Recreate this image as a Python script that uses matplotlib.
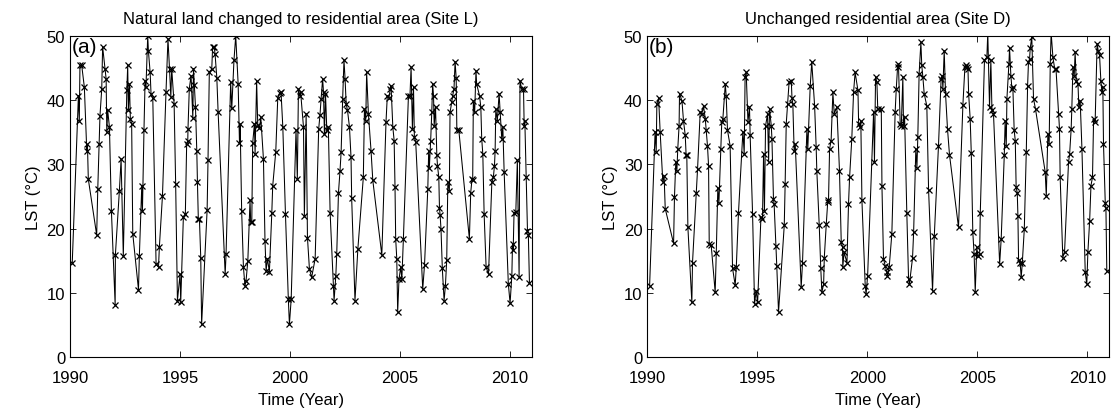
import matplotlib
matplotlib.use("Agg")
import matplotlib.pyplot as plt

plt.rcParams["font.family"] = ["Liberation Sans", "DejaVu Sans"]
plt.rcParams["font.size"] = 12

# Site L: natural land changed to residential area
years_l = [
    1990.10, 1990.38, 1990.42, 1990.45, 1990.53, 1990.65, 1990.76, 1990.79, 1990.83,
    1991.21, 1991.26, 1991.32, 1991.36, 1991.44, 1991.48, 1991.59, 1991.64, 1991.67,
    1991.71, 1991.79, 1991.88, 1992.05, 1992.06, 1992.24, 1992.32, 1992.42, 1992.58,
    1992.62, 1992.65, 1992.70, 1992.74, 1992.80, 1992.85, 1993.11, 1993.15, 1993.26,
    1993.29, 1993.36, 1993.41, 1993.45, 1993.53, 1993.56, 1993.64, 1993.68, 1993.76,
    1993.91, 1994.02, 1994.06, 1994.20, 1994.36, 1994.45, 1994.52, 1994.58, 1994.62,
    1994.73, 1994.80, 1994.88, 1995.00, 1995.03, 1995.15, 1995.24, 1995.30, 1995.35,
    1995.36, 1995.42, 1995.50, 1995.58, 1995.61, 1995.65, 1995.70, 1995.76, 1995.79,
    1995.83, 1995.88, 1995.94, 1995.98, 1996.23, 1996.27, 1996.33, 1996.44, 1996.48,
    1996.55, 1996.59, 1996.67, 1996.73, 1997.05, 1997.09, 1997.30, 1997.35, 1997.45,
    1997.53, 1997.64, 1997.70, 1997.73, 1997.80, 1997.88, 1997.95, 1998.00, 1998.08,
    1998.18, 1998.21, 1998.26, 1998.30, 1998.38, 1998.41, 1998.48, 1998.53, 1998.61,
    1998.67, 1998.79, 1998.86, 1998.91, 1998.97, 1999.06, 1999.17, 1999.21, 1999.35,
    1999.44, 1999.52, 1999.59, 1999.67, 1999.79, 1999.92, 1999.97, 2000.05, 2000.27,
    2000.33, 2000.38, 2000.45, 2000.48, 2000.61, 2000.65, 2000.73, 2000.79, 2000.88,
    2000.98, 2001.14, 2001.30, 2001.36, 2001.41, 2001.48, 2001.52, 2001.56, 2001.61,
    2001.67, 2001.74, 2001.82, 2001.97, 2002.00, 2002.08, 2002.12, 2002.20, 2002.27,
    2002.32, 2002.39, 2002.45, 2002.50, 2002.55, 2002.61, 2002.70, 2002.77, 2002.80,
    2002.95, 2003.08, 2003.33, 2003.38, 2003.44, 2003.48, 2003.56, 2003.68, 2003.76,
    2004.17, 2004.36, 2004.42, 2004.50, 2004.55, 2004.59, 2004.67, 2004.73, 2004.77,
    2004.80, 2004.85, 2004.89, 2004.95, 2005.03, 2005.08, 2005.15, 2005.38, 2005.45,
    2005.50, 2005.56, 2005.61, 2005.65, 2005.71, 2006.03, 2006.11, 2006.26, 2006.30,
    2006.33, 2006.39, 2006.44, 2006.48, 2006.52, 2006.55, 2006.61, 2006.67, 2006.70,
    2006.76, 2006.79, 2006.82, 2006.86, 2006.92, 2007.00, 2007.06, 2007.12, 2007.17,
    2007.24, 2007.27, 2007.35, 2007.39, 2007.45, 2007.50, 2007.55, 2007.58, 2007.67,
    2008.15, 2008.21, 2008.27, 2008.30, 2008.33, 2008.39, 2008.45, 2008.48, 2008.61,
    2008.67, 2008.71, 2008.76, 2008.82, 2008.91, 2009.02, 2009.17, 2009.24, 2009.29,
    2009.32, 2009.35, 2009.42, 2009.50, 2009.55, 2009.62, 2009.67, 2009.73, 2009.92,
    2010.00, 2010.08, 2010.11, 2010.14, 2010.18, 2010.26, 2010.33, 2010.41, 2010.45,
    2010.53, 2010.61, 2010.64, 2010.67, 2010.73, 2010.79, 2010.83, 2010.88,
]
lst_l = [
    14.7, 40.7, 36.8, 45.4, 45.4, 42.0, 32.1, 33.1, 27.7,
    19.0, 26.2, 33.2, 37.6, 41.7, 48.3, 44.9, 43.3, 35.0,
    38.4, 35.8, 22.7, 8.1, 15.9, 25.8, 30.8, 15.7, 41.5,
    45.4, 38.4, 42.5, 37.1, 36.3, 19.2, 10.5, 15.8, 26.7,
    22.8, 35.4, 43.0, 42.0, 50.0, 47.7, 44.3, 41.0, 40.3,
    14.5, 14.0, 17.2, 25.1, 41.2, 49.5, 44.9, 40.5, 44.9,
    39.4, 26.9, 8.8, 12.9, 8.5, 21.8, 22.3, 33.2, 33.7,
    35.5, 41.8, 43.8, 37.2, 44.9, 42.4, 39.0, 32.1, 27.2,
    21.5, 21.5, 15.5, 5.1, 22.9, 30.6, 44.4, 44.8, 48.3,
    48.3, 47.2, 43.5, 38.1, 12.9, 16.0, 42.8, 38.7, 46.2,
    50.0, 42.5, 33.4, 36.3, 22.7, 14.0, 11.1, 11.9, 15.0,
    24.4, 21.0, 21.0, 33.3, 36.3, 31.6, 43.0, 36.2, 35.6,
    37.3, 30.8, 18.1, 13.4, 15.3, 13.3, 22.5, 26.6, 32.0,
    40.3, 41.1, 41.2, 35.8, 22.3, 9.1, 5.1, 9.0, 35.3,
    27.7, 41.7, 40.7, 41.2, 35.8, 21.9, 37.9, 18.6, 13.7,
    12.4, 15.3, 35.5, 37.7, 40.2, 43.3, 41.2, 34.7, 41.0,
    35.3, 35.8, 22.5, 11.1, 8.8, 12.7, 16.0, 25.6, 29.0,
    31.9, 40.2, 46.2, 43.3, 39.4, 38.4, 35.8, 31.1, 24.7,
    8.8, 16.8, 28.0, 38.6, 36.8, 44.3, 37.9, 32.1, 27.5,
    15.9, 36.6, 40.7, 40.4, 41.7, 42.2, 35.8, 33.7, 26.4,
    18.4, 15.3, 7.0, 12.1, 14.0, 12.1, 18.4, 40.7, 40.7,
    45.1, 35.5, 42.0, 34.2, 33.5, 10.6, 14.3, 26.2, 32.1,
    29.5, 33.7, 38.1, 42.5, 40.7, 36.0, 39.0, 31.4, 29.8,
    28.0, 23.2, 22.1, 19.9, 13.8, 8.8, 11.1, 15.1, 27.2,
    25.9, 38.1, 39.7, 40.7, 41.7, 46.0, 43.4, 35.3, 35.3,
    18.4, 25.6, 27.7, 27.5, 39.9, 38.1, 44.6, 42.5, 40.7,
    38.9, 34.0, 31.6, 22.3, 14.0, 12.9, 27.2, 28.0, 29.8,
    32.1, 38.6, 36.8, 41.0, 38.1, 34.0, 35.8, 28.8, 11.4,
    8.4, 12.7, 17.6, 16.6, 22.5, 22.6, 30.6, 12.5, 43.0,
    41.7, 41.7, 36.0, 36.8, 28.0, 19.7, 19.0, 11.5,
]

# Site D: unchanged residential area
years_d = [
    1990.11, 1990.36, 1990.41, 1990.44, 1990.52, 1990.59, 1990.71, 1990.77, 1990.82,
    1991.20, 1991.24, 1991.30, 1991.35, 1991.39, 1991.45, 1991.47, 1991.58, 1991.65,
    1991.73, 1991.77, 1991.80, 1991.85, 1992.03, 1992.06, 1992.23, 1992.29, 1992.41,
    1992.48, 1992.56, 1992.64, 1992.68, 1992.74, 1992.79, 1992.82, 1992.91, 1993.09,
    1993.14, 1993.21, 1993.26, 1993.35, 1993.39, 1993.44, 1993.55, 1993.59, 1993.65,
    1993.77, 1993.88, 1994.00, 1994.05, 1994.15, 1994.35, 1994.41, 1994.45, 1994.50,
    1994.58, 1994.65, 1994.68, 1994.79, 1994.88, 1994.95, 1995.02, 1995.17, 1995.24,
    1995.29, 1995.33, 1995.38, 1995.47, 1995.52, 1995.56, 1995.64, 1995.67, 1995.74,
    1995.77, 1995.85, 1995.89, 1995.97, 1996.23, 1996.27, 1996.32, 1996.38, 1996.45,
    1996.55, 1996.58, 1996.62, 1996.68, 1996.73, 1997.00, 1997.06, 1997.26, 1997.30,
    1997.41, 1997.48, 1997.61, 1997.68, 1997.71, 1997.82, 1997.89, 1997.94, 1998.02,
    1998.05, 1998.14, 1998.21, 1998.24, 1998.29, 1998.36, 1998.44, 1998.50, 1998.62,
    1998.74, 1998.82, 1998.88, 1998.89, 1998.95, 1999.08, 1999.15, 1999.20, 1999.30,
    1999.38, 1999.45, 1999.58, 1999.61, 1999.65, 1999.71, 1999.76, 1999.91, 1999.95,
    2000.02, 2000.29, 2000.33, 2000.38, 2000.44, 2000.48, 2000.64, 2000.67, 2000.74,
    2000.82, 2000.89, 2000.92, 2001.00, 2001.12, 2001.27, 2001.32, 2001.38, 2001.42,
    2001.50, 2001.55, 2001.62, 2001.65, 2001.70, 2001.80, 2001.88, 2001.92, 2002.06,
    2002.11, 2002.21, 2002.26, 2002.30, 2002.36, 2002.44, 2002.48, 2002.53, 2002.59,
    2002.71, 2002.79, 2002.97, 2003.05, 2003.24, 2003.36, 2003.41, 2003.44, 2003.50,
    2003.56, 2003.65, 2003.74, 2004.15, 2004.35, 2004.44, 2004.50, 2004.53, 2004.58,
    2004.61, 2004.68, 2004.73, 2004.80, 2004.86, 2004.91, 2004.98, 2005.03, 2005.11,
    2005.14, 2005.33, 2005.44, 2005.48, 2005.56, 2005.62, 2005.67, 2005.74, 2006.02,
    2006.09, 2006.23, 2006.27, 2006.32, 2006.35, 2006.44, 2006.47, 2006.53, 2006.58,
    2006.62, 2006.68, 2006.73, 2006.77, 2006.82, 2006.85, 2006.88, 2006.95, 2007.00,
    2007.05, 2007.14, 2007.23, 2007.29, 2007.33, 2007.38, 2007.41, 2007.48, 2007.56,
    2007.65, 2008.09, 2008.14, 2008.21, 2008.27, 2008.32, 2008.36, 2008.44, 2008.52,
    2008.58, 2008.70, 2008.74, 2008.77, 2008.89, 2008.97, 2009.15, 2009.20, 2009.27,
    2009.30, 2009.35, 2009.41, 2009.45, 2009.50, 2009.58, 2009.62, 2009.68, 2009.76,
    2009.91, 2009.98, 2010.03, 2010.11, 2010.17, 2010.24, 2010.29, 2010.36, 2010.45,
    2010.50, 2010.56, 2010.62, 2010.67, 2010.71, 2010.74, 2010.82, 2010.85, 2010.89,
]
lst_d = [
    11.1, 35.1, 32.0, 39.4, 40.3, 35.0, 27.3, 28.2, 23.1,
    17.7, 24.9, 30.4, 29.0, 32.4, 36.0, 41.0, 39.9, 36.8,
    34.5, 31.4, 31.5, 20.2, 8.5, 14.7, 25.5, 29.3, 38.1,
    37.8, 39.1, 37.1, 35.4, 32.9, 29.8, 17.6, 17.4, 10.1,
    16.2, 26.3, 24.0, 32.4, 36.6, 37.1, 42.5, 40.7, 35.3,
    32.9, 13.8, 11.2, 14.0, 22.5, 35.1, 31.6, 43.6, 44.3,
    36.6, 38.9, 34.5, 22.3, 8.3, 10.3, 8.5, 21.8, 21.5,
    31.6, 22.8, 36.0, 37.8, 30.4, 38.6, 36.0, 34.0, 24.6,
    23.8, 17.3, 14.2, 7.0, 20.5, 26.9, 36.3, 39.4, 42.8,
    43.0, 40.4, 39.4, 32.1, 33.1, 10.9, 14.7, 35.5, 32.4,
    42.2, 45.9, 39.1, 32.7, 29.0, 20.5, 13.8, 10.1, 11.4,
    15.5, 20.7, 24.4, 24.1, 32.4, 33.7, 41.2, 37.9, 38.9,
    29.0, 17.9, 17.1, 14.0, 16.3, 14.7, 23.8, 28.0, 34.0,
    41.2, 44.3, 41.5, 36.3, 35.8, 36.8, 24.4, 11.1, 9.8,
    12.7, 38.1, 30.4, 43.6, 42.8, 38.6, 38.6, 26.7, 15.3,
    14.2, 13.2, 12.7, 14.0, 19.2, 38.1, 41.7, 45.1, 45.6,
    36.3, 36.0, 43.6, 36.0, 37.3, 22.5, 12.1, 11.4, 15.4,
    19.4, 32.4, 29.5, 34.2, 44.1, 49.0, 45.4, 43.6, 41.0,
    39.1, 26.0, 10.3, 18.9, 32.9, 43.3, 43.8, 41.8, 47.7,
    41.0, 35.5, 31.5, 20.2, 39.3, 45.1, 45.4, 45.1, 44.9,
    41.0, 37.1, 31.8, 19.4, 16.0, 10.1, 17.1, 15.8, 16.0,
    22.5, 46.2, 46.7, 50.5, 38.9, 46.2, 38.4, 37.9, 14.5,
    18.4, 31.4, 36.8, 32.9, 40.2, 45.6, 48.1, 43.8, 41.7,
    42.0, 35.3, 33.7, 26.4, 25.6, 22.0, 15.1, 14.7, 12.4,
    14.7, 19.9, 31.9, 42.2, 45.9, 46.4, 48.1, 49.8, 40.2,
    38.6, 28.8, 25.0, 34.7, 33.2, 45.6, 50.5, 46.7, 44.9,
    44.9, 37.9, 35.5, 28.0, 15.5, 16.4, 30.3, 31.6, 35.5,
    38.6, 45.1, 43.8, 47.5, 43.0, 42.5, 38.9, 39.9, 32.4,
    13.2, 11.4, 16.3, 21.2, 26.7, 28.0, 37.1, 36.6, 48.8,
    47.7, 47.0, 43.0, 41.2, 42.0, 33.2, 24.0, 23.2, 13.4,
]

titles = ["Natural land changed to residential area (Site L)",
          "Unchanged residential area (Site D)"]
panel_tags = ["(a)", "(b)"]
x_ticks = [1990, 1995, 2000, 2005, 2010]
y_ticks = [0, 10, 20, 30, 40, 50]

fig = plt.figure(figsize=(11.12, 4.14), dpi=100)
ax1 = fig.add_axes([0.063, 0.135, 0.4155, 0.776])
ax2 = fig.add_axes([0.582, 0.135, 0.4155, 0.776])

for ax, yrs, vals, title, tag in zip([ax1, ax2], [years_l, years_d], [lst_l, lst_d],
                                     titles, panel_tags):
    ax.plot(yrs, vals, color="black", linewidth=0.75, marker="x",
            markersize=3.8, markeredgewidth=0.9)
    ax.set_xlim(1990, 2011)
    ax.set_ylim(0, 50)
    ax.set_xticks(x_ticks)
    ax.set_yticks(y_ticks)
    ax.tick_params(direction="in", top=True, right=True, length=4, width=0.6)
    ax.tick_params(axis="x", pad=9)
    for s in ax.spines.values():
        s.set_linewidth(0.8)
    ax.set_title(title, fontsize=12, pad=9)
    ax.set_xlabel("Time (Year)", labelpad=5)
    ax.set_ylabel("LST (°C)")
    ax.text(0.004, 0.995, tag, transform=ax.transAxes, ha="left", va="top", fontsize=15)

fig.savefig("out.png", dpi=100)
